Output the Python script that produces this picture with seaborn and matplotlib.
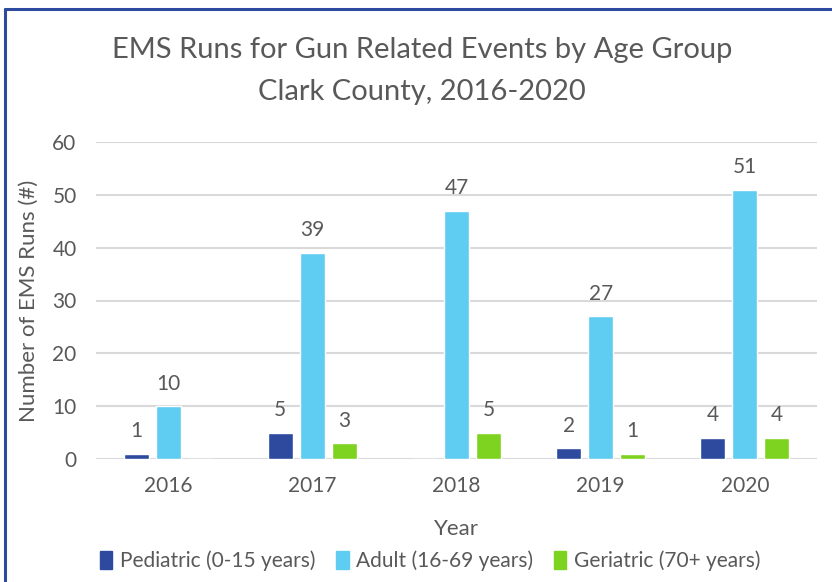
import matplotlib
matplotlib.use("Agg")
import matplotlib.pyplot as plt
import seaborn as sns
import pandas as pd
from matplotlib.patches import Rectangle
from matplotlib.lines import Line2D

years = ["2016", "2017", "2018", "2019", "2020"]
groups = ["Pediatric (0-15 years)", "Adult (16-69 years)", "Geriatric (70+ years)"]
pediatric = [1, 5, 0, 2, 4]
adult = [10, 39, 47, 27, 51]
geriatric = [0, 3, 5, 1, 4]
colors = ["#2E4A9E", "#5FCDF2", "#7ED321"]
yticks = [0, 10, 20, 30, 40, 50, 60]

df = pd.DataFrame({
    "Year": years * 3,
    "Group": [groups[0]] * 5 + [groups[1]] * 5 + [groups[2]] * 5,
    "Value": pediatric + adult + geriatric,
})

sns.set_theme(style="white")
plt.rcParams["font.family"] = ["Lato", "DejaVu Sans"]
txt = "#595959"

fig = plt.figure(figsize=(8.32, 5.82), dpi=100)
ax = fig.add_axes([96 / 832, 1 - 459 / 582, (817 - 96) / 832, 317 / 582])

sns.barplot(data=df, x="Year", y="Value", hue="Group", order=years, hue_order=groups,
            palette=colors, width=0.667, gap=0.22, ax=ax, legend=True, saturation=1)

for cont in ax.containers:
    labels = [f"{int(v)}" if v > 0 else "" for v in cont.datavalues]
    ax.bar_label(cont, labels=labels, padding=9, fontsize=15, color=txt)

ax.set_ylim(0, 60)
ax.set_yticks(yticks)
ax.yaxis.grid(True, color="#D9D9D9", linewidth=1.5)
ax.set_axisbelow(True)
for s in ax.spines.values():
    s.set_visible(False)
ax.tick_params(axis="both", length=0, labelsize=15, colors=txt)
ax.tick_params(axis="x", pad=12)
ax.tick_params(axis="y", pad=14)
ax.set_xlabel("Year", fontsize=16, color=txt, labelpad=17)
ax.set_ylabel("Number of EMS Runs (#)", fontsize=16, color=txt, labelpad=10)

ax.legend_.remove()
handles = [Rectangle((0, 0), 1, 1, color=c) for c in colors]
fig.legend(handles, groups, loc="center", bbox_to_anchor=(430 / 832, 1 - 561 / 582),
           ncol=3, frameon=False, fontsize=15, labelcolor=txt, handlelength=0.6,
           handleheight=1.0, handletextpad=0.35, columnspacing=1.0)

fig.text(0.507, 1 - 50 / 582, "EMS Runs for Gun Related Events by Age Group",
         ha="center", va="center", fontsize=21, color=txt)
fig.text(0.507, 1 - 92 / 582, "Clark County, 2016-2020",
         ha="center", va="center", fontsize=21, color=txt)

# border (top and left visible)
fig.add_artist(Line2D([5 / 832, 1.0], [1 - 9 / 582, 1 - 9 / 582], color="#2E4A9E",
                      linewidth=2.2, transform=fig.transFigure))
fig.add_artist(Line2D([5 / 832, 5 / 832], [1 - 9 / 582, 0], color="#2E4A9E",
                      linewidth=2.2, transform=fig.transFigure))

fig.savefig("out.png", dpi=100)
